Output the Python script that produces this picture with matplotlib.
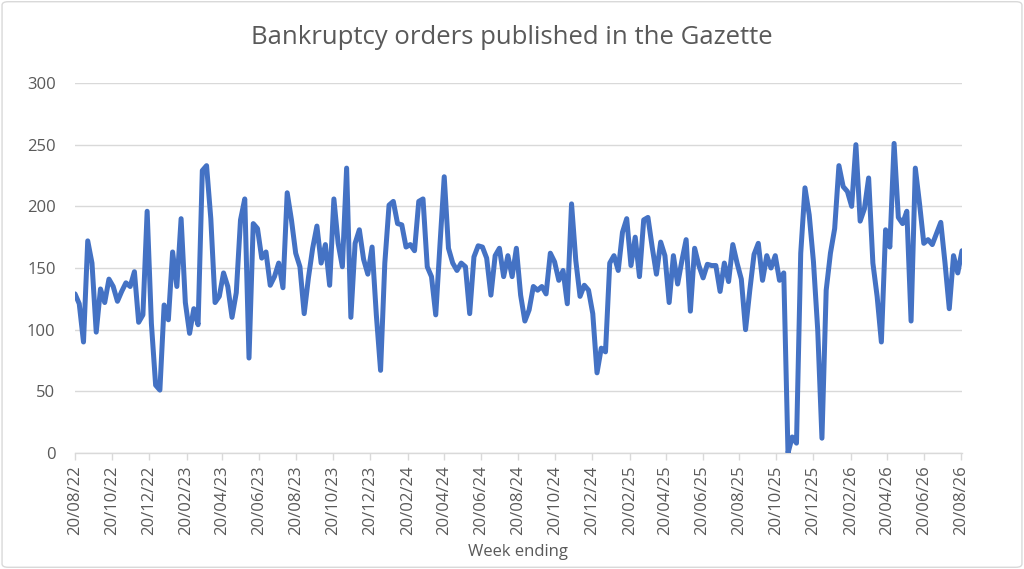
import numpy as np
import pandas as pd
import matplotlib
matplotlib.use('Agg')
import matplotlib.pyplot as plt
import matplotlib.dates as mdates
from matplotlib.patches import FancyBboxPatch

# Weekly bankruptcy orders
START_DATE = '2022-08-20'
ORDERS = [
    129, 121, 90, 172, 154, 98, 133, 122, 141, 135,
    123, 131, 138, 135, 147, 106, 112, 196, 105, 55,
    51, 120, 108, 163, 135, 190, 122, 97, 117, 104,
    229, 233, 190, 122, 127, 146, 135, 110, 130, 189,
    206, 77, 186, 182, 158, 163, 136, 143, 154, 134,
    211, 189, 162, 151, 113, 142, 166, 184, 154, 169,
    136, 206, 170, 151, 231, 110, 170, 181, 157, 145,
    167, 112, 67, 154, 201, 204, 186, 185, 167, 169,
    164, 204, 206, 151, 143, 112, 169, 224, 166, 154,
    148, 154, 151, 113, 159, 168, 167, 158, 128, 160,
    166, 143, 160, 143, 166, 128, 107, 116, 135, 132,
    135, 129, 162, 155, 140, 148, 121, 202, 156, 127,
    136, 132, 113, 65, 85, 82, 154, 160, 148, 179,
    190, 152, 175, 143, 189, 191, 167, 145, 171, 160,
    122, 160, 137, 156, 173, 115, 166, 152, 142, 153,
    152, 152, 131, 154, 139, 169, 154, 141, 100, 132,
    161, 170, 140, 160, 150, 160, 140, 146, 0, 13,
    8, 162, 215, 193, 155, 100, 12, 132, 162, 182,
    233, 216, 212, 200, 250, 188, 198, 223, 154, 127,
    90, 181, 167, 251, 191, 186, 196, 107, 231, 202,
    170, 173, 169, 178, 187, 154, 117, 160, 146, 164,
]
Y_TICKS = [0, 50, 100, 150, 200, 250, 300]

TEXT_GREY = '#595959'
GRID_GREY = '#d9d9d9'
LINE_BLUE = '#4472c4'

plt.rcParams['font.family'] = ['Open Sans', 'DejaVu Sans']

dates = pd.date_range(START_DATE, periods=len(ORDERS), freq='7D')
df = pd.DataFrame({'orders': ORDERS}, index=dates)

fig = plt.figure(figsize=(10.24, 5.69), dpi=100)
ax = fig.add_axes([75 / 1024, 116 / 569, 887 / 1024, 370 / 569])

# outer chart border like an Excel chart area
fig.patches.append(FancyBboxPatch((0.002, 0.003), 0.996, 0.994,
                                  boxstyle='round,pad=0,rounding_size=0.006',
                                  transform=fig.transFigure, fill=False,
                                  edgecolor=GRID_GREY, linewidth=1.0))

ax.plot(df.index, df['orders'], color=LINE_BLUE, linewidth=3.6,
        solid_joinstyle='round', solid_capstyle='round', zorder=3)

ax.set_ylim(0, 300)
ax.set_yticks(Y_TICKS)
ax.set_xlim(df.index[0], df.index[-1])

# ticks on the 20th of every second month
tick_dates = pd.date_range('2022-08-01', '2026-08-01', freq='2MS') + pd.Timedelta(days=19)
ax.set_xticks(tick_dates)
ax.xaxis.set_major_formatter(mdates.DateFormatter('%d/%m/%y'))

ax.grid(axis='y', color=GRID_GREY, linewidth=1.0)
ax.set_axisbelow(True)
for side in ['top', 'right', 'left']:
    ax.spines[side].set_visible(False)
ax.spines['bottom'].set_color(GRID_GREY)
ax.spines['bottom'].set_linewidth(1.0)

ax.tick_params(axis='y', length=0, pad=14, labelsize=12, labelcolor=TEXT_GREY)
ax.tick_params(axis='x', length=5, width=1.0, color=GRID_GREY, pad=4,
               labelsize=12, labelcolor=TEXT_GREY, labelrotation=90)

ax.set_xlabel('Week ending', fontsize=12, color=TEXT_GREY, labelpad=6)
fig.text(0.5, 1 - 37 / 569, 'Bankruptcy orders published in the Gazette',
         ha='center', va='center', fontsize=18.5, color=TEXT_GREY)

fig.savefig('out.png', dpi=100)
